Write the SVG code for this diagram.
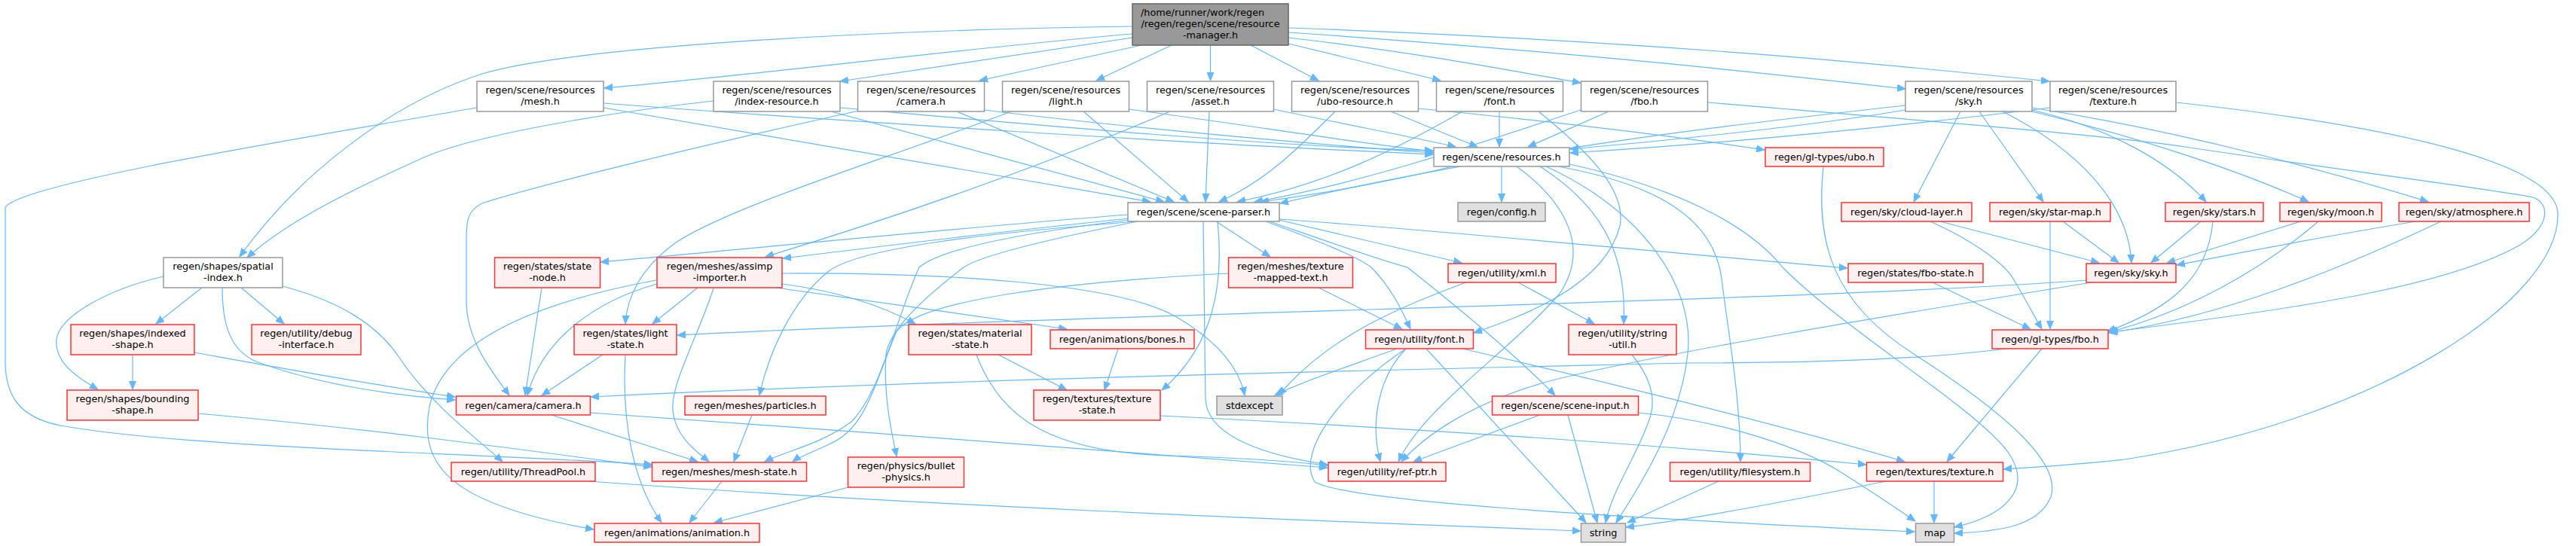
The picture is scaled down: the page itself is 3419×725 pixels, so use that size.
<svg xmlns="http://www.w3.org/2000/svg" width="3419" height="725" viewBox="0 0 3419 725">
<style>
.e{fill:none;stroke:#63B8FF;stroke-width:1.2;marker-end:url(#a)}
.n rect{fill:#ffffff;stroke:#999999;stroke-width:1.5}
.r rect{fill:#FFF0F0;stroke:#FF3030;stroke-width:1.5}
.g rect{fill:#E0E0E0;stroke:#999999;stroke-width:1.5}
.root rect{fill:#999999;stroke:#666666;stroke-width:1.5}
text{font-family:"DejaVu Sans","Liberation Sans",sans-serif;font-size:12.8px;fill:#000;text-anchor:middle}
</style>
<defs>
<marker id="a" markerUnits="userSpaceOnUse" markerWidth="12" markerHeight="10" viewBox="0 0 12 10" refX="11" refY="5" orient="auto"><path d="M0,0.5 L11,5 L0,9.5 z" fill="#63B8FF" stroke="#63B8FF"/></marker>
</defs>
<g id="edges">
<path class="e" d="M1503,35 C1150,40 760,62 640,98 C510,140 390,240 318,341"/>
<path class="e" d="M1503,45 C1300,62 1000,100 802,117"/>
<path class="e" d="M1503,50 C1350,72 1200,96 1115,108"/>
<path class="e" d="M1515,60 L1300,107"/>
<path class="e" d="M1555,60 L1455,107"/>
<path class="e" d="M1606.5,60 L1606.5,107"/>
<path class="e" d="M1660,60 L1750,107"/>
<path class="e" d="M1710,58 L1912,107"/>
<path class="e" d="M1710,50 C1900,72 2010,95 2098,110"/>
<path class="e" d="M1710,43 C2100,70 2350,98 2529,118"/>
<path class="e" d="M1710,37 C2200,55 2500,85 2720,108"/>
<path class="e" d="M801,143 L1527,268"/>
<path class="e" d="M801,137 C1100,160 1600,192 1902,205"/>
<path class="e" d="M633,143 C330,195 30,245 7,275 L7,480 C7,530 30,555 80,565 C250,595 600,600 866,617"/>
<path class="e" d="M947,134 C800,150 630,180 565,208 C460,255 380,295 328,342"/>
<path class="e" d="M1103,148 L1545,268"/>
<path class="e" d="M1115,143 C1400,168 1700,195 1902,200"/>
<path class="e" d="M1270,148 L1558,268"/>
<path class="e" d="M1306,146 C1500,170 1750,192 1902,203"/>
<path class="e" d="M1140,147 C900,200 700,250 640,270 C618,280 619,300 619,320 L619,400 C619,450 650,490 676,525"/>
<path class="e" d="M1438,148 L1577,268"/>
<path class="e" d="M1498,145 C1650,165 1800,190 1902,201"/>
<path class="e" d="M1342,148 C1180,210 980,270 900,320 C850,355 832,395 830,430"/>
<path class="e" d="M1605,148 L1600,268"/>
<path class="e" d="M1690,145 C1800,168 1890,185 1932,195"/>
<path class="e" d="M1553,148 C1350,235 1150,300 1016,341"/>
<path class="e" d="M1772,148 C1720,200 1680,240 1618,268"/>
<path class="e" d="M1846,148 L1961,195"/>
<path class="e" d="M1882,144 C2100,165 2250,185 2342,199"/>
<path class="e" d="M1941,148 C1850,200 1760,245 1642,268"/>
<path class="e" d="M1990,148 L1990,195"/>
<path class="e" d="M2042,148 C2100,195 2160,250 2150,300 C2130,380 2020,420 1956,442"/>
<path class="e" d="M2098,146 C1950,195 1800,245 1665,268"/>
<path class="e" d="M2135,148 L2028,195"/>
<path class="e" d="M2267,136 C2550,160 2800,180 2900,195 C3100,225 3300,250 3362,262 C3385,270 3385,300 3345,325 C3250,380 3050,410 2800,441"/>
<path class="e" d="M2529,140 C2300,165 2000,200 1699,270"/>
<path class="e" d="M2529,146 C2400,168 2200,188 2084,198"/>
<path class="e" d="M2602,148 L2540,268"/>
<path class="e" d="M2627,148 L2712,268"/>
<path class="e" d="M2658,148 C2760,200 2825,270 2829,349"/>
<path class="e" d="M2697,146 C2800,170 2880,215 2928,268"/>
<path class="e" d="M2697,148 C2850,185 2980,230 3064,268"/>
<path class="e" d="M2697,143 C2900,175 3100,230 3223,268"/>
<path class="e" d="M2721,143 C2500,170 2300,190 2084,203"/>
<path class="e" d="M2888,136 C3200,170 3395,220 3395,285 C3395,400 3150,560 2820,610 C2760,617 2700,620 2659,623"/>
<path class="e" d="M1993,221 L1993,268"/>
<path class="e" d="M1928,221 C1850,240 1750,258 1673,268"/>
<path class="e" d="M2044,221 C2120,270 2160,330 2155,430"/>
<path class="e" d="M2052,221 C2180,280 2250,380 2240,470 C2230,560 2180,640 2145,694"/>
<path class="e" d="M2013,221 C2080,270 2110,330 2070,390 C2000,470 1890,540 1856,613"/>
<path class="e" d="M2068,221 C2200,245 2275,290 2285,370 C2295,450 2310,530 2310,613"/>
<path class="e" d="M2083,218 C2250,255 2330,310 2366,355 C2450,440 2620,540 2665,600 C2700,650 2660,685 2594,700"/>
<path class="e" d="M2420,221 C2410,320 2430,400 2540,470 C2680,560 2735,620 2722,660 C2705,700 2650,706 2594,708"/>
<path class="e" d="M1497,285 C1300,300 1000,330 797,348"/>
<path class="e" d="M1500,290 C1300,310 1150,330 1039,343"/>
<path class="e" d="M1510,294 C1300,310 1140,330 1100,360 C1050,400 1020,470 1008,525"/>
<path class="e" d="M1500,292 C1350,310 1250,330 1220,355 C1190,420 1170,520 1130,560 C1090,590 1040,600 1015,613"/>
<path class="e" d="M1510,294 C1380,320 1300,340 1279,355 C1220,400 1180,440 1176,470 C1172,530 1185,580 1190,606"/>
<path class="e" d="M1614,294 L1686,341"/>
<path class="e" d="M1616,294 C1625,380 1610,460 1542,518"/>
<path class="e" d="M1597,294 L1600,530 C1602,570 1650,600 1762,617"/>
<path class="e" d="M1697,292 L1940,349"/>
<path class="e" d="M1680,294 C1750,320 1800,340 1820,355 C1845,380 1860,410 1872,437"/>
<path class="e" d="M1685,294 C1760,320 1830,345 1868,355 C1950,420 2020,480 2064,525"/>
<path class="e" d="M1698,291 C1900,305 2150,330 2452,356"/>
<path class="e" d="M800,471 L719,525"/>
<path class="e" d="M830,471 C825,560 840,640 878,694"/>
<path class="e" d="M926,382 L866,430"/>
<path class="e" d="M872,377 C790,400 720,450 700,525"/>
<path class="e" d="M947,383 C925,450 890,510 893,545 C896,580 925,600 941,613"/>
<path class="e" d="M871,372 C720,400 590,450 570,540 C555,620 600,670 788,703"/>
<path class="e" d="M1038,377 C1100,385 1160,400 1215,430"/>
<path class="e" d="M1030,382 C1120,395 1300,420 1416,437"/>
<path class="e" d="M1038,363 C1250,362 1480,375 1560,420 C1620,455 1645,490 1652,525"/>
<path class="e" d="M719,382 L697,525"/>
<path class="e" d="M1325,471 L1416,518"/>
<path class="e" d="M1296,471 C1330,560 1400,600 1550,605 C1650,608 1710,612 1762,618"/>
<path class="e" d="M1484,463 L1466,518"/>
<path class="e" d="M1540,552 C1900,570 2200,590 2477,617"/>
<path class="e" d="M1750,382 L1861,437"/>
<path class="e" d="M1630,363 C1400,375 1220,400 1190,440 C1160,510 1150,570 1100,590 C1080,600 1060,607 1052,613"/>
<path class="e" d="M1946,375 C1850,410 1760,450 1697,525"/>
<path class="e" d="M2015,375 L2116,430"/>
<path class="e" d="M1854,463 C1780,490 1720,510 1692,525"/>
<path class="e" d="M1866,463 C1830,500 1818,560 1832,613"/>
<path class="e" d="M1893,463 L2105,694"/>
<path class="e" d="M1866,463 C1780,520 1720,600 1745,640 C1790,665 2100,685 2541,706"/>
<path class="e" d="M1941,463 C2100,500 2350,560 2528,613"/>
<path class="e" d="M2044,551 L1876,613"/>
<path class="e" d="M2081,551 L2120,694"/>
<path class="e" d="M2174,548 C2300,560 2400,600 2440,625 C2480,650 2510,670 2542,692"/>
<path class="e" d="M2166,471 C2190,500 2200,530 2188,560 C2170,610 2140,650 2131,694"/>
<path class="e" d="M2710,463 L2584,613"/>
<path class="e" d="M2662,463 C2550,478 2400,482 2240,482 C1900,490 1300,502 784,527"/>
<path class="e" d="M2565,375 L2695,437"/>
<path class="e" d="M2575,294 L2786,349"/>
<path class="e" d="M2562,294 C2620,320 2660,350 2672,370 C2690,400 2700,420 2710,437"/>
<path class="e" d="M2738,294 L2812,349"/>
<path class="e" d="M2721,294 L2721,437"/>
<path class="e" d="M2921,294 L2855,349"/>
<path class="e" d="M2937,294 C2930,370 2880,410 2797,440"/>
<path class="e" d="M3054,294 L2876,349"/>
<path class="e" d="M3077,294 C3000,360 2900,415 2799,441"/>
<path class="e" d="M3206,294 C3050,320 2950,340 2889,352"/>
<path class="e" d="M3240,294 C3100,360 2950,420 2799,442"/>
<path class="e" d="M2769,372 C2400,400 1500,415 899,445"/>
<path class="e" d="M2776,375 C2500,420 2200,470 2060,505 C1950,535 1890,580 1860,613"/>
<path class="e" d="M268,382 L207,430"/>
<path class="e" d="M320,382 L377,430"/>
<path class="e" d="M217,367 C140,385 80,420 75,450 C72,480 100,500 130,517"/>
<path class="e" d="M295,382 C295,430 305,465 340,480 C420,510 520,525 604,531"/>
<path class="e" d="M375,380 C450,400 500,430 530,475 C570,535 630,580 667,613"/>
<path class="e" d="M176,471 L176,517"/>
<path class="e" d="M258,468 C380,490 500,512 604,527"/>
<path class="e" d="M263,549 C500,570 700,598 865,620"/>
<path class="e" d="M732,551 L926,613"/>
<path class="e" d="M783,548 C1100,570 1500,600 1762,621"/>
<path class="e" d="M998,551 L974,613"/>
<path class="e" d="M782,639 C1200,670 1700,690 2098,705"/>
<path class="e" d="M958,639 L915,694"/>
<path class="e" d="M1126,647 L948,694"/>
<path class="e" d="M2281,639 L2160,694"/>
<path class="e" d="M2567,639 L2567,694"/>
<path class="e" d="M2503,639 C2400,660 2250,690 2158,700"/>
</g>
<g id="n-root" class="root"><rect x="1503" y="5" width="207" height="55"/><text x="1514" y="21" style="text-anchor:start">/home/runner/work/regen</text><text x="1606.5" y="36">/regen/regen/scene/resource</text><text x="1606.5" y="51">-manager.h</text></g>
<g id="n-mesh" class="n"><rect x="633" y="108" width="168" height="40"/><text x="717" y="124">regen/scene/resources</text><text x="717" y="139">/mesh.h</text></g>
<g id="n-index-resource" class="n"><rect x="947" y="108" width="168" height="40"/><text x="1031" y="124">regen/scene/resources</text><text x="1031" y="139">/index-resource.h</text></g>
<g id="n-camera-res" class="n"><rect x="1138.5" y="108" width="168" height="40"/><text x="1222.5" y="124">regen/scene/resources</text><text x="1222.5" y="139">/camera.h</text></g>
<g id="n-light-res" class="n"><rect x="1330.5" y="108" width="168" height="40"/><text x="1414.5" y="124">regen/scene/resources</text><text x="1414.5" y="139">/light.h</text></g>
<g id="n-asset" class="n"><rect x="1522.5" y="108" width="168" height="40"/><text x="1606.5" y="124">regen/scene/resources</text><text x="1606.5" y="139">/asset.h</text></g>
<g id="n-ubo-resource" class="n"><rect x="1714.5" y="108" width="168" height="40"/><text x="1798.5" y="124">regen/scene/resources</text><text x="1798.5" y="139">/ubo-resource.h</text></g>
<g id="n-font-res" class="n"><rect x="1906.5" y="108" width="168" height="40"/><text x="1990.5" y="124">regen/scene/resources</text><text x="1990.5" y="139">/font.h</text></g>
<g id="n-fbo-res" class="n"><rect x="2098.5" y="108" width="168" height="40"/><text x="2182.5" y="124">regen/scene/resources</text><text x="2182.5" y="139">/fbo.h</text></g>
<g id="n-sky-res" class="n"><rect x="2529" y="108" width="168" height="40"/><text x="2613" y="124">regen/scene/resources</text><text x="2613" y="139">/sky.h</text></g>
<g id="n-texture-res" class="n"><rect x="2721" y="108" width="167" height="40"/><text x="2804.5" y="124">regen/scene/resources</text><text x="2804.5" y="139">/texture.h</text></g>
<g id="n-resources" class="n"><rect x="1903" y="196" width="180" height="25"/><text x="1993" y="213">regen/scene/resources.h</text></g>
<g id="n-ubo" class="r"><rect x="2343" y="196" width="157" height="25"/><text x="2421.5" y="213">regen/gl-types/ubo.h</text></g>
<g id="n-scene-parser" class="n"><rect x="1497" y="269" width="201" height="25"/><text x="1597.5" y="286">regen/scene/scene-parser.h</text></g>
<g id="n-config" class="g"><rect x="1935" y="269" width="116" height="25"/><text x="1993" y="286">regen/config.h</text></g>
<g id="n-cloud-layer" class="r"><rect x="2444" y="269" width="173" height="25"/><text x="2530.5" y="286">regen/sky/cloud-layer.h</text></g>
<g id="n-star-map" class="r"><rect x="2641" y="269" width="160" height="25"/><text x="2721" y="286">regen/sky/star-map.h</text></g>
<g id="n-stars" class="r"><rect x="2874" y="269" width="130" height="25"/><text x="2939" y="286">regen/sky/stars.h</text></g>
<g id="n-moon" class="r"><rect x="3026" y="269" width="135" height="25"/><text x="3093.5" y="286">regen/sky/moon.h</text></g>
<g id="n-atmosphere" class="r"><rect x="3184" y="269" width="173" height="25"/><text x="3270.5" y="286">regen/sky/atmosphere.h</text></g>
<g id="n-spatial-index" class="n"><rect x="217" y="342" width="158" height="40"/><text x="296" y="358">regen/shapes/spatial</text><text x="296" y="373">-index.h</text></g>
<g id="n-state-node" class="r"><rect x="656.5" y="342" width="140" height="40"/><text x="726.5" y="358">regen/states/state</text><text x="726.5" y="373">-node.h</text></g>
<g id="n-assimp" class="r"><rect x="872" y="342" width="166" height="40"/><text x="955" y="358">regen/meshes/assimp</text><text x="955" y="373">-importer.h</text></g>
<g id="n-texture-mapped-text" class="r"><rect x="1630.5" y="342" width="165" height="40"/><text x="1713" y="358">regen/meshes/texture</text><text x="1713" y="373">-mapped-text.h</text></g>
<g id="n-xml" class="r"><rect x="1922" y="350" width="143" height="25"/><text x="1993.5" y="367">regen/utility/xml.h</text></g>
<g id="n-fbo-state" class="r"><rect x="2453" y="350" width="179" height="25"/><text x="2542.5" y="367">regen/states/fbo-state.h</text></g>
<g id="n-sky" class="r"><rect x="2769" y="350" width="119" height="25"/><text x="2828.5" y="367">regen/sky/sky.h</text></g>
<g id="n-indexed-shape" class="r"><rect x="94" y="431" width="164" height="40"/><text x="176" y="447">regen/shapes/indexed</text><text x="176" y="462">-shape.h</text></g>
<g id="n-debug-interface" class="r"><rect x="334" y="431" width="145" height="40"/><text x="406.5" y="447">regen/utility/debug</text><text x="406.5" y="462">-interface.h</text></g>
<g id="n-light-state" class="r"><rect x="762" y="431" width="136" height="40"/><text x="830" y="447">regen/states/light</text><text x="830" y="462">-state.h</text></g>
<g id="n-material-state" class="r"><rect x="1206" y="431" width="163" height="40"/><text x="1287.5" y="447">regen/states/material</text><text x="1287.5" y="462">-state.h</text></g>
<g id="n-bones" class="r"><rect x="1394" y="438" width="191" height="25"/><text x="1489.5" y="455">regen/animations/bones.h</text></g>
<g id="n-utility-font" class="r"><rect x="1812.5" y="438" width="143" height="25"/><text x="1884" y="455">regen/utility/font.h</text></g>
<g id="n-string-util" class="r"><rect x="2082" y="431" width="143" height="40"/><text x="2153.5" y="447">regen/utility/string</text><text x="2153.5" y="462">-util.h</text></g>
<g id="n-gl-fbo" class="r"><rect x="2644" y="438" width="154" height="25"/><text x="2721" y="455">regen/gl-types/fbo.h</text></g>
<g id="n-bounding-shape" class="r"><rect x="89" y="518" width="174" height="40"/><text x="176" y="534">regen/shapes/bounding</text><text x="176" y="549">-shape.h</text></g>
<g id="n-camera" class="r"><rect x="605.5" y="526" width="178" height="25"/><text x="694.5" y="543">regen/camera/camera.h</text></g>
<g id="n-particles" class="r"><rect x="909" y="526" width="187" height="25"/><text x="1002.5" y="543">regen/meshes/particles.h</text></g>
<g id="n-texture-state" class="r"><rect x="1372" y="518" width="168" height="40"/><text x="1456" y="534">regen/textures/texture</text><text x="1456" y="549">-state.h</text></g>
<g id="n-stdexcept" class="g"><rect x="1615" y="526" width="87" height="25"/><text x="1658.5" y="543">stdexcept</text></g>
<g id="n-scene-input" class="r"><rect x="1980.5" y="526" width="194" height="25"/><text x="2077.5" y="543">regen/scene/scene-input.h</text></g>
<g id="n-threadpool" class="r"><rect x="599" y="614" width="191" height="25"/><text x="694.5" y="631">regen/utility/ThreadPool.h</text></g>
<g id="n-mesh-state" class="r"><rect x="865.5" y="614" width="205" height="25"/><text x="968" y="631">regen/meshes/mesh-state.h</text></g>
<g id="n-bullet-physics" class="r"><rect x="1125.5" y="607" width="154" height="40"/><text x="1202.5" y="623">regen/physics/bullet</text><text x="1202.5" y="638">-physics.h</text></g>
<g id="n-ref-ptr" class="r"><rect x="1763" y="614" width="156" height="25"/><text x="1841" y="631">regen/utility/ref-ptr.h</text></g>
<g id="n-filesystem" class="r"><rect x="2216.5" y="614" width="186" height="25"/><text x="2309.5" y="631">regen/utility/filesystem.h</text></g>
<g id="n-texture" class="r"><rect x="2477.5" y="614" width="181" height="25"/><text x="2568" y="631">regen/textures/texture.h</text></g>
<g id="n-animation" class="r"><rect x="789" y="695" width="219" height="25"/><text x="898.5" y="712">regen/animations/animation.h</text></g>
<g id="n-string" class="g"><rect x="2098.5" y="695" width="59" height="25"/><text x="2128" y="712">string</text></g>
<g id="n-map" class="g"><rect x="2542.5" y="695" width="51" height="25"/><text x="2568" y="712">map</text></g>
</svg>
